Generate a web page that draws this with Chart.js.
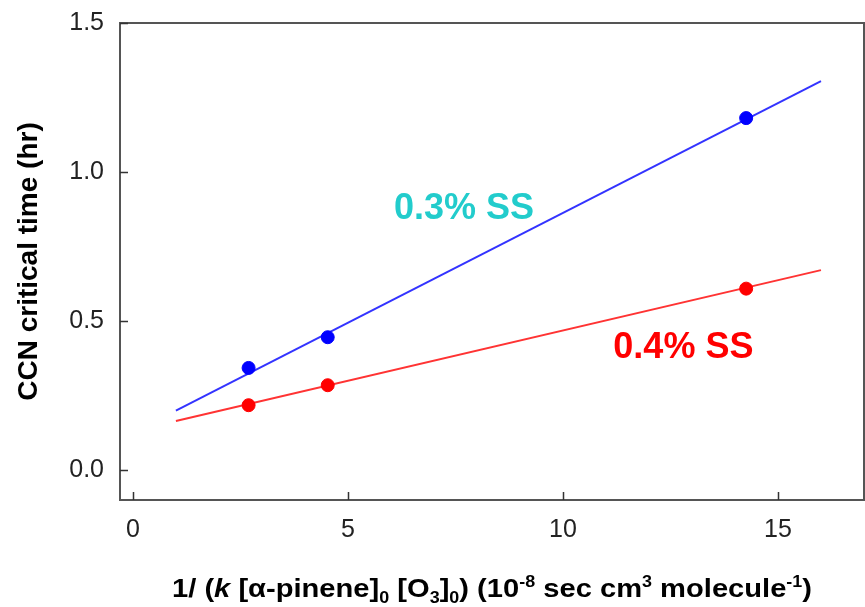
<!DOCTYPE html>
<html>
<head>
<meta charset="utf-8">
<script src="https://cdn.jsdelivr.net/npm/chart.js@4.4.1/dist/chart.umd.min.js"></script>
<style>
  html, body { margin: 0; padding: 0; background: #fff; overflow: hidden; }
  #wrap { width: 865px; height: 607px; }
  canvas { display: block; }
</style>
</head>
<body>
<div id="wrap"><canvas id="myChart" width="865" height="607"></canvas></div>
<script>
'use strict';

// DATA
const xPoints = [2.69, 4.53, 14.26];
const ss03Points = [0.343, 0.446, 1.181];
const ss04Points = [0.218, 0.285, 0.609];

// fitted lines, read at their two ends
const fitX = [1, 16];
const ss03Fit = [0.2, 1.305];
const ss04Fit = [0.165, 0.671];

const xTicks = [0, 5, 10, 15];
const yTicks = [0, 0.5, 1.0, 1.5];

// text labels on the plot
const seriesLabels = [
  { text: '0.3% SS', x: 7.7, y: 0.877, color: '#22cccc' },
  { text: '0.4% SS', x: 12.8, y: 0.408, color: '#ff0000' },
];

const toPoints = (xs, ys) => xs.map((x, i) => ({ x: x, y: ys[i] }));

// x title pieces: n = normal bold, i = italic, sub / sup
const xTitleRuns = [
  { t: '1/ (', s: 'n' },
  { t: 'k', s: 'i' },
  { t: ' [α-pinene]', s: 'n' },
  { t: '0', s: 'sub' },
  { t: ' [O', s: 'n' },
  { t: '3', s: 'sub' },
  { t: ']', s: 'n' },
  { t: '0', s: 'sub' },
  { t: ') (10', s: 'n' },
  { t: '-8', s: 'sup' },
  { t: ' sec cm', s: 'n' },
  { t: '3', s: 'sup' },
  { t: ' molecule', s: 'n' },
  { t: '-1', s: 'sup' },
  { t: ')', s: 'n' },
];

const FONT = 'Arial, "Liberation Sans", sans-serif';

// frame + inward ticks + labels + x title
const decorations = {
  id: 'decorations',
  afterDatasetsDraw(chart) {
    const ctx = chart.ctx;
    const area = chart.chartArea;
    const xs = chart.scales.x;
    const ys = chart.scales.y;

    ctx.save();
    ctx.strokeStyle = '#555';
    ctx.lineWidth = 2;
    ctx.strokeRect(area.left, area.top, area.right - area.left, area.bottom - area.top);

    ctx.lineWidth = 1.5;
    ctx.strokeStyle = '#333';
    ctx.beginPath();
    xTicks.forEach(function (v) {
      const px = Math.round(xs.getPixelForValue(v)) + 0.5;
      ctx.moveTo(px, area.bottom);
      ctx.lineTo(px, area.bottom - 8);
    });
    yTicks.forEach(function (v) {
      const py = Math.round(ys.getPixelForValue(v)) + 0.5;
      ctx.moveTo(area.left, py);
      ctx.lineTo(area.left + 8, py);
    });
    ctx.stroke();

    // series labels
    ctx.font = 'bold 36px ' + FONT;
    ctx.textAlign = 'center';
    ctx.textBaseline = 'middle';
    seriesLabels.forEach(function (lab) {
      ctx.fillStyle = lab.color;
      ctx.fillText(lab.text, xs.getPixelForValue(lab.x), ys.getPixelForValue(lab.y));
    });

    // x axis title
    const size = 26;
    const fontFor = function (s) {
      if (s === 'i') return 'italic bold ' + size + 'px ' + FONT;
      if (s === 'sub' || s === 'sup') return 'bold ' + Math.round(size * 0.6) + 'px ' + FONT;
      return 'bold ' + size + 'px ' + FONT;
    };
    let total = 0;
    xTitleRuns.forEach(function (r) {
      ctx.font = fontFor(r.s);
      r.w = ctx.measureText(r.t).width;
      total += r.w;
    });
    const target = 640;
    const sx = target / total;
    const cx = 492;
    const baseY = 597;
    ctx.translate(cx - target / 2, baseY);
    ctx.scale(sx, 1);
    ctx.fillStyle = '#000';
    ctx.textAlign = 'left';
    ctx.textBaseline = 'alphabetic';
    let pos = 0;
    xTitleRuns.forEach(function (r) {
      ctx.font = fontFor(r.s);
      let dy = 0;
      if (r.s === 'sub') dy = 6;
      if (r.s === 'sup') dy = -10;
      ctx.fillText(r.t, pos, dy);
      pos += r.w;
    });
    ctx.restore();
  },
};

const ctx = document.getElementById('myChart').getContext('2d');

const chart = new Chart(ctx, {
  type: 'scatter',
  data: {
    datasets: [
      {
        label: '0.3% SS',
        data: toPoints(xPoints, ss03Points),
        backgroundColor: '#0000ff',
        borderColor: '#0000ff',
        pointRadius: 6.5,
        pointHoverRadius: 6.5,
        order: 0,
      },
      {
        label: '0.4% SS',
        data: toPoints(xPoints, ss04Points),
        backgroundColor: '#ff0000',
        borderColor: '#ff0000',
        pointRadius: 6.5,
        pointHoverRadius: 6.5,
        order: 0,
      },
      {
        label: '0.3% SS fit',
        data: toPoints(fitX, ss03Fit),
        showLine: true,
        borderColor: '#3333ff',
        borderWidth: 2,
        pointRadius: 0,
        order: 1,
      },
      {
        label: '0.4% SS fit',
        data: toPoints(fitX, ss04Fit),
        showLine: true,
        borderColor: '#ff3333',
        borderWidth: 2,
        pointRadius: 0,
        order: 1,
      },
    ],
  },
  options: {
    responsive: false,
    animation: false,
    layout: { autoPadding: false, padding: { top: 23, right: 1, left: 0, bottom: 0 } },
    plugins: {
      legend: { display: false },
      tooltip: { enabled: false },
    },
    scales: {
      x: {
        type: 'linear',
        min: -0.3,
        max: 17,
        afterBuildTicks: function (scale) {
          scale.ticks = xTicks.map(v => ({ value: v }));
        },
        afterFit: function (scale) {
          scale.height = 107;
          scale.paddingLeft = 0;
          scale.paddingRight = 0;
        },
        grid: { display: false, drawTicks: false },
        border: { display: false },
        ticks: {
          padding: 15,
          color: '#222',
          font: { family: FONT, size: 25 },
          maxRotation: 0,
        },
      },
      y: {
        type: 'linear',
        min: -0.1,
        max: 1.5,
        afterBuildTicks: function (scale) {
          scale.ticks = yTicks.map(v => ({ value: v }));
        },
        afterFit: function (scale) {
          scale.width = 120;
          scale.paddingTop = 0;
          scale.paddingBottom = 0;
        },
        grid: { display: false, drawTicks: false },
        border: { display: false },
        ticks: {
          padding: 16,
          color: '#222',
          font: { family: FONT, size: 25 },
          callback: v => v.toFixed(1),
        },
        title: {
          display: true,
          text: 'CCN critical time (hr)',
          color: '#000',
          font: { family: FONT, size: 28, weight: 'bold' },
          padding: { top: 12, bottom: 0 },
        },
      },
    },
  },
  plugins: [decorations],
});
</script>
</body>
</html>
